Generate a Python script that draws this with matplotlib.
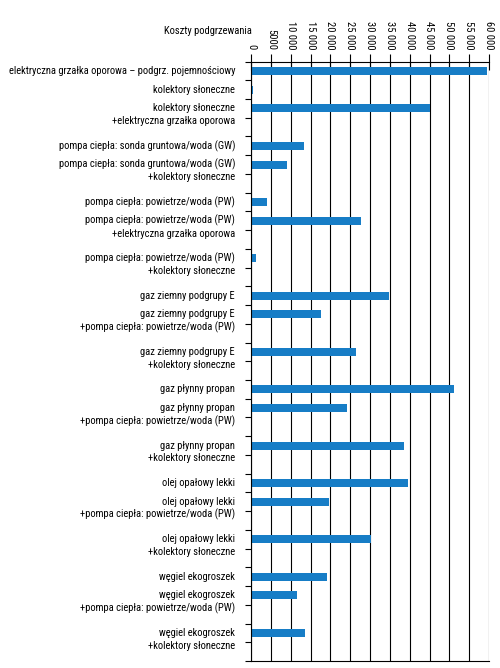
import numpy as np
from matplotlib import pyplot as plt
from matplotlib import font_manager

# pick a narrow sans if one is installed, else a smaller regular one
fonts = font_manager.fontManager.ttflist
names = set(f.name for f in fonts)
font_kw = None
for cand in ['Liberation Sans Narrow', 'Arial Narrow', 'Roboto Condensed',
             'Noto Sans Condensed', 'Open Sans Condensed', 'DejaVu Sans Condensed']:
    if cand in names:
        font_kw = dict(family=[cand, 'DejaVu Sans'], size=7.6)
        break
if font_kw is None:
    for fam in ['Noto Sans', 'Roboto', 'Open Sans', 'DejaVu Sans']:
        if any(f.name == fam and 'condensed' in str(f.stretch) for f in fonts):
            font_kw = dict(family=[fam, 'DejaVu Sans'], stretch='condensed', size=7.6)
            break
if font_kw is None:
    font_kw = dict(family=['Liberation Sans', 'DejaVu Sans'], size=6.7)

labels = [
    'elektryczna grzałka oporowa – podgrz. pojemnościowy',
    'kolektory słoneczne',
    'kolektory słoneczne\n+elektryczna grzałka oporowa',
    'pompa ciepła: sonda gruntowa/woda (GW)',
    'pompa ciepła: sonda gruntowa/woda (GW)\n+kolektory słoneczne',
    'pompa ciepła: powietrze/woda (PW)',
    'pompa ciepła: powietrze/woda (PW)\n+elektryczna grzałka oporowa',
    'pompa ciepła: powietrze/woda (PW)\n+kolektory słoneczne',
    'gaz ziemny podgrupy E',
    'gaz ziemny podgrupy E\n+pompa ciepła: powietrze/woda (PW)',
    'gaz ziemny podgrupy E\n+kolektory słoneczne',
    'gaz płynny propan',
    'gaz płynny propan\n+pompa ciepła: powietrze/woda (PW)',
    'gaz płynny propan\n+kolektory słoneczne',
    'olej opałowy lekki',
    'olej opałowy lekki\n+pompa ciepła: powietrze/woda (PW)',
    'olej opałowy lekki\n+kolektory słoneczne',
    'węgiel ekogroszek',
    'węgiel ekogroszek\n+pompa ciepła: powietrze/woda (PW)',
    'węgiel ekogroszek\n+kolektory słoneczne',
]
costs = [59500, 600, 45000, 13400, 9000, 4000, 27800, 1200,
         34700, 17700, 26500, 51100, 24200, 38500,
         39700, 19700, 30200, 19100, 11600, 13600]
tick_values = [0, 5000, 10000, 15000, 20000, 25000, 30000,
               35000, 40000, 45000, 50000, 55000, 60000]
tick_labels = ['0', '5000', '10 000', '15 000', '20 000', '25 000', '30 000',
               '35 000', '40 000', '45 000', '50 000', '55 000', '60 000']
axis_title = 'Koszty podgrzewania'

# each label takes as many rows as it has lines
nlines = [lab.count('\n') + 1 for lab in labels]
rows = np.concatenate([[0], np.cumsum(nlines)[:-1]])
nrows = sum(nlines)

fig = plt.figure(figsize=(5, 6.68), dpi=100)
ax = fig.add_axes([251 / 500, 1 - 661 / 668, 238 / 500, 599.5 / 668])

for x in tick_values:
    ax.axvline(x, color='black', lw=0.8, zorder=1)
ax.barh(rows, costs, height=0.43, color='#177dc6', zorder=2)

ax.set_xlim(0, 60000)
ax.set_ylim(nrows - 0.5, -0.5)

ax.xaxis.tick_top()
ax.set_xticks(tick_values)
ax.set_xticklabels(tick_labels, rotation=270, **font_kw)
ax.tick_params(axis='x', direction='inout', length=11, width=0.8, pad=3)

ax.set_yticks(np.arange(nrows + 1) - 0.5)
ax.set_yticklabels([])
ax.tick_params(axis='y', direction='out', length=4.5, width=0.8)

for sp in ax.spines.values():
    sp.set_linewidth(0.8)
ax.spines['right'].set_visible(False)

for lab, r in zip(labels, rows):
    for i, line in enumerate(lab.split('\n')):
        ax.annotate(line, xy=(0, r), xycoords=('axes fraction', 'data'),
                    xytext=(-11.5, -i * 9.2), textcoords='offset points',
                    ha='right', va='center', **font_kw)

fig.text(252 / 500, 1 - 31 / 668, axis_title, ha='right', va='center', **font_kw)

fig.savefig('out.png', dpi=100)
